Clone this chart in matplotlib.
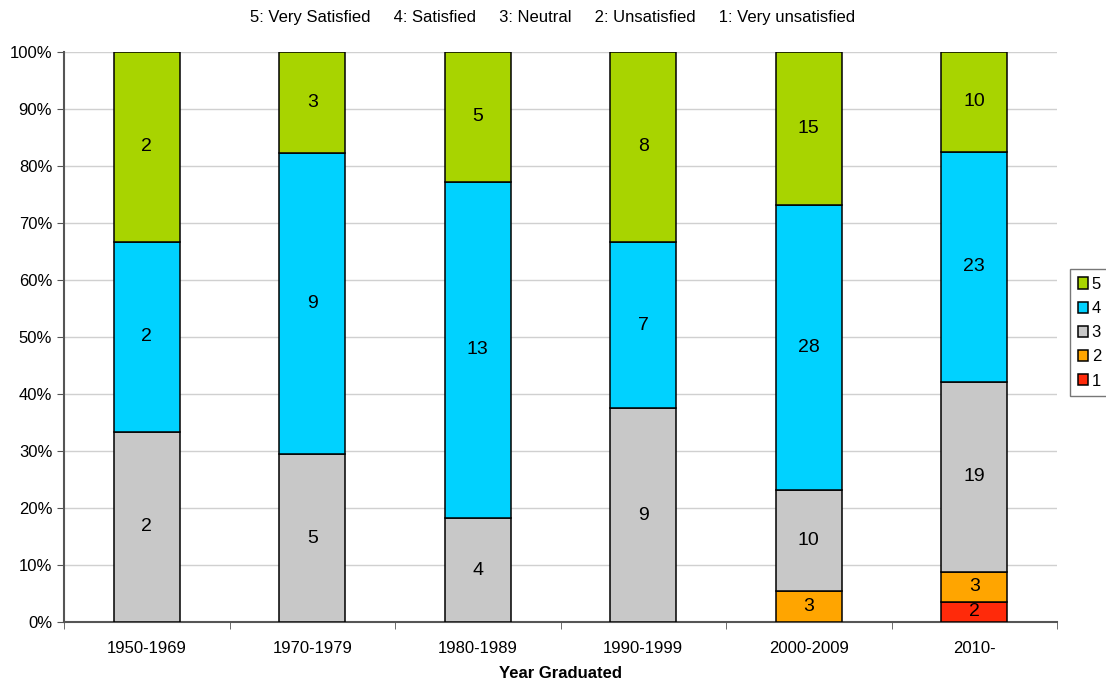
import matplotlib
matplotlib.use("Agg")
import matplotlib.pyplot as plt
import numpy as np

plt.rcParams["font.family"] = ["Liberation Sans", "DejaVu Sans"]

periods = ["1950-1969", "1970-1979", "1980-1989", "1990-1999", "2000-2009", "2010-"]
levels = ["1", "2", "3", "4", "5"]
counts = {
    "1": [0, 0, 0, 0, 0, 2],
    "2": [0, 0, 0, 0, 3, 3],
    "3": [2, 5, 4, 9, 10, 19],
    "4": [2, 9, 13, 7, 28, 23],
    "5": [2, 3, 5, 8, 15, 10],
}
colors = {"1": "#FF2A0A", "2": "#FFA500", "3": "#C8C8C8", "4": "#00D2FF", "5": "#A8D400"}

totals = np.sum([counts[k] for k in levels], axis=0)
x = np.arange(len(periods))

fig = plt.figure(figsize=(11.06, 6.86), dpi=100)
ax = fig.add_axes([0.0579, 0.0933, 0.8978, 0.8309])

bottom = np.zeros(len(periods))
handles = {}
for lev in levels:
    vals = np.array(counts[lev], dtype=float)
    frac = vals / totals * 100
    bars = ax.bar(x, frac, width=0.4, bottom=bottom, color=colors[lev],
                  edgecolor="black", linewidth=1.1, zorder=3)
    handles[lev] = bars
    for xi, f, b, v in zip(x, frac, bottom, vals):
        if v > 0:
            ax.text(xi, b + f / 2, str(int(v)), ha="center", va="center",
                    fontsize=14, zorder=4)
    bottom += frac

ax.set_xlim(-0.5, len(periods) - 0.5)
ax.set_ylim(0, 100)
ax.set_yticks(np.arange(0, 101, 10))
ax.set_yticklabels([f"{v}%" for v in range(0, 101, 10)], fontsize=12)
ax.yaxis.grid(True, color="#D0D0D0", linewidth=1, zorder=0)
ax.set_xticks(x)
ax.set_xticklabels(periods, fontsize=12)
ax.set_xticks(np.arange(-0.5, len(periods)), minor=True)
ax.tick_params(axis="x", which="major", length=0, pad=14)
ax.tick_params(axis="x", which="minor", length=5, color="#555555")
ax.tick_params(axis="y", length=5, color="#555555")
for s in ["top", "right"]:
    ax.spines[s].set_visible(False)
for s in ["left", "bottom"]:
    ax.spines[s].set_color("#555555")
    ax.spines[s].set_linewidth(1.5)

ax.set_xlabel("Year Graduated", fontsize=12, fontweight="bold", labelpad=7)

fig.text(0.5, 0.975, "5: Very Satisfied     4: Satisfied     3: Neutral     2: Unsatisfied     1: Very unsatisfied",
         ha="center", va="center", fontsize=12)

leg = fig.legend([handles[k] for k in levels[::-1]], levels[::-1],
                 loc="center left", bbox_to_anchor=(0.9675, 0.515),
                 fontsize=12, frameon=True, fancybox=False, edgecolor="#555555",
                 handlelength=0.65, handleheight=0.65, handletextpad=0.2,
                 borderpad=0.45, borderaxespad=0, labelspacing=0.55)
leg.get_frame().set_linewidth(1.0)
leg._legend_box.sep = 2

fig.savefig("out.png", dpi=100)
